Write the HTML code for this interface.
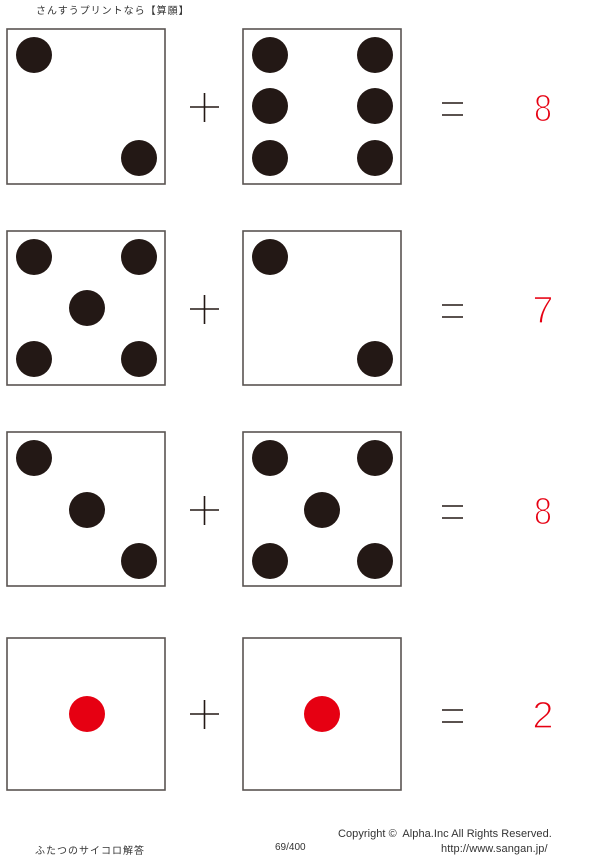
<!DOCTYPE html>
<html><head><meta charset="utf-8"><style>
body{margin:0;width:600px;height:859px;background:#fff;position:relative;overflow:hidden;font-family:"Liberation Sans","Noto Sans CJK JP",sans-serif}
.t{position:absolute;color:#333;white-space:nowrap}
</style></head><body>
<div class="t" style="left:36px;top:2px;font-size:10px;letter-spacing:1px">さんすうプリントなら【算願】</div>
<svg width="600" height="859" style="position:absolute;left:0;top:0">
<g stroke="#5a5452" stroke-width="1.6" fill="none">
<rect x="7" y="29" width="158" height="155"/><rect x="243" y="29" width="158" height="155"/>
<rect x="7" y="231" width="158" height="154"/><rect x="243" y="231" width="158" height="154"/>
<rect x="7" y="432" width="158" height="154"/><rect x="243" y="432" width="158" height="154"/>
<rect x="7" y="638" width="158" height="152"/><rect x="243" y="638" width="158" height="152"/>
</g>
<g fill="#231815">
<circle cx="34" cy="55" r="18"/><circle cx="139" cy="158" r="18"/>
<circle cx="270" cy="55" r="18"/><circle cx="375" cy="55" r="18"/>
<circle cx="270" cy="106" r="18"/><circle cx="375" cy="106" r="18"/>
<circle cx="270" cy="158" r="18"/><circle cx="375" cy="158" r="18"/>
<circle cx="34" cy="257" r="18"/><circle cx="139" cy="257" r="18"/><circle cx="87" cy="308" r="18"/>
<circle cx="34" cy="359" r="18"/><circle cx="139" cy="359" r="18"/>
<circle cx="270" cy="257" r="18"/><circle cx="375" cy="359" r="18"/>
<circle cx="34" cy="458" r="18"/><circle cx="87" cy="510" r="18"/><circle cx="139" cy="561" r="18"/>
<circle cx="270" cy="458" r="18"/><circle cx="375" cy="458" r="18"/><circle cx="322" cy="510" r="18"/>
<circle cx="270" cy="561" r="18"/><circle cx="375" cy="561" r="18"/>
</g>
<g fill="#e60012"><circle cx="87" cy="714" r="18"/><circle cx="322" cy="714" r="18"/></g>
<g stroke="#231815" stroke-width="1.6">
<path d="M190 107h29M204.5 93v29"/><path d="M190 309h29M204.5 295v29"/>
<path d="M190 510h29M204.5 496v29"/><path d="M190 714h29M204.5 700v29"/>
<path d="M442 103h21M442 115h21"/><path d="M442 305h21M442 317h21"/>
<path d="M442 506h21M442 518h21"/><path d="M442 710h21M442 722h21"/>
</g>
<g fill="#e60012" stroke="#fff" stroke-width="1.3" font-family="Liberation Sans" font-size="38" text-anchor="middle">
<text x="543" y="121" transform="translate(543 0) scale(0.85 1) translate(-543 0)">8</text><text x="543" y="323">7</text><text x="543" y="524" transform="translate(543 0) scale(0.85 1) translate(-543 0)">8</text><text x="543" y="728">2</text>
</g>
</svg>
<div class="t" style="left:35px;top:842px;font-size:10px;letter-spacing:1px">ふたつのサイコロ解答</div>
<div class="t" style="left:275px;top:842px;font-size:10px">69/400</div>
<div class="t" style="left:338px;top:828px;font-size:11px;letter-spacing:0.05px">Copyright ©&nbsp; Alpha.Inc All Rights Reserved.</div>
<div class="t" style="left:441px;top:843px;font-size:11px;letter-spacing:0.1px">http://www.sangan.jp/</div>
</body></html>
